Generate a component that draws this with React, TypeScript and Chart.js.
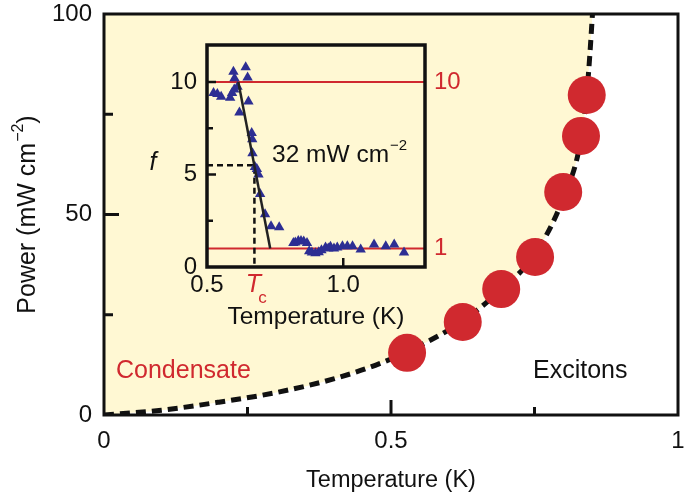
import React, { useEffect, useRef } from 'react';
import { Chart, registerables } from 'chart.js';
Chart.register(...registerables);

const FONT = '"Liberation Sans", Arial, Helvetica, sans-serif';
const RED = '#D0292F';
const BLUE = '#2D2E93';
const YELLOW = '#FFF8D3';
const INK = '#111111';

// ---- main panel data ----
const mainTempTicks = [0, 0.25, 0.5, 0.75, 1];
const mainTempLabels = [0, 0.5, 1];
const mainPowerTicks = [0, 25, 50, 75, 100];
const mainPowerLabels = [0, 50, 100];

const boundaryT = [0, 0.1, 0.2, 0.3, 0.4, 0.48, 0.55, 0.62, 0.69, 0.75, 0.8, 0.83, 0.841, 0.846, 0.851];
const boundaryP = [0, 1.2, 3.2, 5.6, 9, 12.8, 17.3, 23, 31, 40, 54, 68, 80, 89, 100];

const pointT = [0.528, 0.625, 0.692, 0.751, 0.8, 0.831, 0.841];
const pointP = [15.5, 23.2, 31.4, 39.4, 55.6, 69.6, 79.8];

// ---- inset data ----
const insetTRange = [0.5, 1.3];
const insetFRange = [0, 12];
const insetTLabels = [0.5, 1.0];
const insetFTicks = [0, 2.5, 5, 7.5, 10];
const insetFLabels = [0, 5, 10];
const refLevels = [1, 10];

const insetT = [
  0.524, 0.538, 0.552, 0.585, 0.592, 0.6, 0.612, 0.597, 0.601, 0.642, 0.649, 0.652, 0.619,
  0.664, 0.666, 0.667, 0.676, 0.683, 0.689, 0.695, 0.713, 0.735, 0.765, 0.817, 0.824, 0.835,
  0.845, 0.855, 0.867, 0.875, 0.885, 0.898, 0.91, 0.92, 0.935, 0.945, 0.953, 0.966, 0.978,
  0.997, 1.015, 1.034, 1.064, 1.113, 1.156, 1.187, 1.223,
];
const insetF = [
  9.4, 9.35, 9.2, 9.15, 9.4, 9.6, 9.75, 10.55, 10.2, 10.8, 10.25, 8.95, 8.35,
  7.25, 6.9, 6.15, 5.4, 5.3, 5.0, 3.95, 2.85, 2.2, 2.15, 1.3, 1.32, 1.4,
  1.41, 1.38, 1.3, 0.85, 0.78, 0.75, 0.8, 0.9, 1.05, 1.0, 1.09, 1.0, 1.05,
  1.12, 1.12, 1.12, 0.95, 1.22, 1.12, 1.22, 0.78,
];
const fitT = [0.615, 0.732];
const fitF = [10, 1];
const tcValue = 0.674;
const halfF = 5.5;

function drawWithSup(ctx: CanvasRenderingContext2D, base: string, sup: string, tail: string, x: number, y: number, size: number, align: 'left' | 'center') {
  const supSize = Math.round(size * 0.62);
  ctx.font = `${size}px ${FONT}`;
  const w1 = ctx.measureText(base).width;
  const w3 = ctx.measureText(tail).width;
  ctx.font = `${supSize}px ${FONT}`;
  const w2 = ctx.measureText(sup).width;
  const total = w1 + w2 + w3 + 1;
  let sx = align === 'center' ? x - total / 2 : x;
  ctx.textAlign = 'left';
  ctx.textBaseline = 'middle';
  ctx.font = `${size}px ${FONT}`;
  ctx.fillText(base, sx, y);
  sx += w1 + 1;
  ctx.font = `${supSize}px ${FONT}`;
  ctx.fillText(sup, sx, y - size * 0.38);
  sx += w2;
  ctx.font = `${size}px ${FONT}`;
  if (tail) ctx.fillText(tail, sx, y);
}

const fixV = (w: number) => (s: any) => { s.width = w; s.paddingTop = 0; s.paddingBottom = 0; };
const fixH = (h: number) => (s: any) => { s.height = h; s.paddingLeft = 0; s.paddingRight = 0; };

// main canvas is shifted so its plot box lands at (104,14)-(678,415) on the page
const MAIN_SHIFT_Y = -5;

const mainDecor = {
  id: 'mainDecor',
  afterDatasetsDraw(chart: any) {
    const { ctx, chartArea: a, scales } = chart;
    const x = scales.x;
    const y = scales.y;
    ctx.save();
    ctx.strokeStyle = INK;
    ctx.lineWidth = 3;
    ctx.strokeRect(a.left, a.top, a.right - a.left, a.bottom - a.top);
    mainTempTicks.forEach((v) => {
      if (v <= 0 || v >= 1) return;
      const px = x.getPixelForValue(v);
      const len = mainTempLabels.includes(v) ? 15 : 8;
      ctx.beginPath();
      ctx.moveTo(px, a.bottom);
      ctx.lineTo(px, a.bottom - len);
      ctx.stroke();
    });
    mainPowerTicks.forEach((v) => {
      if (v <= 0 || v >= 100) return;
      const py = y.getPixelForValue(v);
      const len = mainPowerLabels.includes(v) ? 15 : 9;
      ctx.beginPath();
      ctx.moveTo(a.left, py);
      ctx.lineTo(a.left + len, py);
      ctx.stroke();
    });
    ctx.textBaseline = 'middle';
    ctx.textAlign = 'left';
    ctx.font = `25px ${FONT}`;
    ctx.fillStyle = RED;
    ctx.fillText('Condensate', a.left + 12, 371 - MAIN_SHIFT_Y);
    ctx.fillStyle = INK;
    ctx.fillText('Excitons', 533, 371 - MAIN_SHIFT_Y);
    ctx.translate(28, (a.top + a.bottom) / 2);
    ctx.rotate(-Math.PI / 2);
    ctx.fillStyle = INK;
    drawWithSup(ctx, 'Power (mW cm', '\u22122', ')', 0, 0, 25, 'center');
    ctx.restore();
  },
};

const insetDecor = {
  id: 'insetDecor',
  beforeDatasetsDraw(chart: any) {
    const { ctx, chartArea: a } = chart;
    ctx.save();
    ctx.fillStyle = YELLOW;
    ctx.fillRect(a.left, a.top, a.right - a.left, a.bottom - a.top);
    ctx.restore();
  },
  afterDatasetsDraw(chart: any) {
    const { ctx, chartArea: a, scales } = chart;
    const x = scales.x;
    const y = scales.y;
    ctx.save();
    ctx.strokeStyle = INK;
    ctx.lineWidth = 3.5;
    ctx.strokeRect(a.left, a.top, a.right - a.left, a.bottom - a.top);
    ctx.lineWidth = 2.5;
    insetFTicks.forEach((v) => {
      if (v <= 0) return;
      const py = y.getPixelForValue(v);
      const len = insetFLabels.includes(v) ? 9 : 6;
      ctx.beginPath();
      ctx.moveTo(a.left, py);
      ctx.lineTo(a.left + len, py);
      ctx.stroke();
    });
    insetTLabels.forEach((v) => {
      if (v <= insetTRange[0]) return;
      const px = x.getPixelForValue(v);
      ctx.beginPath();
      ctx.moveTo(px, a.bottom);
      ctx.lineTo(px, a.bottom - 9);
      ctx.stroke();
    });
    // Tc label
    const tcx = x.getPixelForValue(tcValue);
    ctx.fillStyle = RED;
    ctx.textBaseline = 'middle';
    ctx.textAlign = 'center';
    ctx.font = `italic 25px ${FONT}`;
    ctx.fillText('T', tcx - 1, a.bottom + 18);
    ctx.font = `17px ${FONT}`;
    ctx.fillText('c', tcx + 8, a.bottom + 31);
    // f axis label
    ctx.fillStyle = INK;
    ctx.font = `italic 25px ${FONT}`;
    ctx.fillText('f', 23, 128);
    // annotation
    drawWithSup(ctx, '32 mW cm', '\u22122', '', 142, 120, 24.5, 'left');
    ctx.restore();
  },
};

export default function App() {
  const mainRef = useRef<HTMLCanvasElement>(null);
  const insetRef = useRef<HTMLCanvasElement>(null);

  useEffect(() => {
    const tickFont = { family: FONT, size: 24 };

    const main = new Chart(mainRef.current as HTMLCanvasElement, {
      type: 'scatter',
      data: {
        datasets: [
          {
            type: 'scatter',
            data: pointT.map((t, i) => ({ x: t, y: pointP[i] })),
            pointRadius: 19,
            pointHoverRadius: 19,
            backgroundColor: RED,
            borderWidth: 0,
            order: 0,
            clip: false,
          } as any,
          {
            type: 'line',
            data: boundaryT.map((t, i) => ({ x: t, y: boundaryP[i] })),
            borderColor: INK,
            borderWidth: 5,
            borderDash: [10, 6],
            pointRadius: 0,
            fill: 'end',
            backgroundColor: YELLOW,
            cubicInterpolationMode: 'monotone',
            order: 1,
          } as any,
        ],
      },
      options: {
        responsive: false,
        animation: false,
        devicePixelRatio: 1,
        events: [],
        layout: { padding: { top: 0, right: 0, left: 0, bottom: 0 } },
        plugins: { legend: { display: false }, tooltip: { enabled: false } },
        scales: {
          x: {
            type: 'linear',
            min: 0,
            max: 1,
            afterBuildTicks: (s: any) => { s.ticks = mainTempTicks.map((v) => ({ value: v })); },
            afterFit: fixH(78),
            ticks: {
              autoSkip: false,
              maxRotation: 0,
              padding: 12,
              color: INK,
              font: tickFont,
              callback: (v: any) => (mainTempLabels.includes(Number(v)) ? String(v) : ''),
            },
            grid: { display: false, drawTicks: false, tickLength: 0 },
            border: { display: false },
            title: { display: true, text: 'Temperature (K)', color: INK, font: { family: FONT, size: 23.5 }, padding: { top: 0, bottom: -2 } },
          },
          y: {
            type: 'linear',
            min: 0,
            max: 100,
            afterBuildTicks: (s: any) => { s.ticks = mainPowerTicks.map((v) => ({ value: v })); },
            afterFit: fixV(104),
            ticks: {
              autoSkip: false,
              padding: 12,
              color: INK,
              font: tickFont,
              callback: (v: any) => (mainPowerLabels.includes(Number(v)) ? String(v) : ''),
            },
            grid: { display: false, drawTicks: false, tickLength: 0 },
            border: { display: false },
          },
        },
      } as any,
      plugins: [mainDecor],
    });

    const inset = new Chart(insetRef.current as HTMLCanvasElement, {
      type: 'scatter',
      data: {
        datasets: [
          ...refLevels.map((lv) => ({
            type: 'line',
            data: [{ x: insetTRange[0], y: lv }, { x: insetTRange[1], y: lv }],
            borderColor: RED,
            borderWidth: 2,
            pointRadius: 0,
            order: 5,
          })),
          {
            type: 'line',
            data: [{ x: insetTRange[0], y: halfF }, { x: tcValue, y: halfF }, { x: tcValue, y: insetFRange[0] }],
            borderColor: INK,
            borderWidth: 2.5,
            borderDash: [6, 4],
            pointRadius: 0,
            order: 4,
          },
          {
            type: 'scatter',
            data: insetT.map((t, i) => ({ x: t, y: insetF[i] })),
            pointStyle: 'triangle',
            pointRadius: 6,
            pointHoverRadius: 6,
            backgroundColor: BLUE,
            borderWidth: 0,
            order: 2,
          },
          {
            type: 'line',
            data: fitT.map((t, i) => ({ x: t, y: fitF[i] })),
            borderColor: '#222222',
            borderWidth: 2.5,
            pointRadius: 0,
            order: 1,
          },
        ] as any,
      },
      options: {
        responsive: false,
        animation: false,
        devicePixelRatio: 1,
        events: [],
        layout: { padding: { top: 10, right: 0, left: 0, bottom: 0 } },
        plugins: { legend: { display: false }, tooltip: { enabled: false } },
        scales: {
          x: {
            type: 'linear',
            min: insetTRange[0],
            max: insetTRange[1],
            afterBuildTicks: (s: any) => { s.ticks = insetTLabels.map((v) => ({ value: v })); },
            afterFit: fixH(68),
            ticks: {
              autoSkip: false,
              maxRotation: 0,
              padding: 4,
              color: INK,
              font: tickFont,
              callback: (v: any) => Number(v).toFixed(1),
            },
            grid: { display: false, drawTicks: false, tickLength: 0 },
            border: { display: false },
            title: { display: true, text: 'Temperature (K)', color: INK, font: { family: FONT, size: 24.5 }, padding: { top: 0, bottom: 3 } },
          },
          y: {
            type: 'linear',
            position: 'left',
            min: insetFRange[0],
            max: insetFRange[1],
            afterBuildTicks: (s: any) => { s.ticks = insetFTicks.map((v) => ({ value: v })); },
            afterFit: fixV(77),
            ticks: {
              autoSkip: false,
              padding: 10,
              color: INK,
              font: tickFont,
              callback: (v: any) => (insetFLabels.includes(Number(v)) ? String(v) : ''),
            },
            grid: { display: false, drawTicks: false, tickLength: 0 },
            border: { display: false },
          },
          y2: {
            type: 'linear',
            position: 'right',
            min: insetFRange[0],
            max: insetFRange[1],
            afterBuildTicks: (s: any) => { s.ticks = refLevels.map((v) => ({ value: v })); },
            afterFit: fixV(45),
            ticks: { autoSkip: false, padding: 9, color: RED, font: tickFont },
            grid: { display: false, drawTicks: false, tickLength: 0 },
            border: { display: false },
          },
        },
      } as any,
      plugins: [insetDecor],
    });

    return () => {
      main.destroy();
      inset.destroy();
    };
  }, []);

  return (
    <div style={{ position: 'fixed', left: 0, top: 0, width: 685, height: 493, background: '#fff', overflow: 'hidden' }}>
      <canvas ref={mainRef} width={697} height={498} style={{ position: 'absolute', left: 0, top: MAIN_SHIFT_Y, width: 697, height: 498 }} />
      <canvas ref={insetRef} width={340} height={300} style={{ position: 'absolute', left: 130, top: 35, width: 340, height: 300 }} />
    </div>
  );
}
